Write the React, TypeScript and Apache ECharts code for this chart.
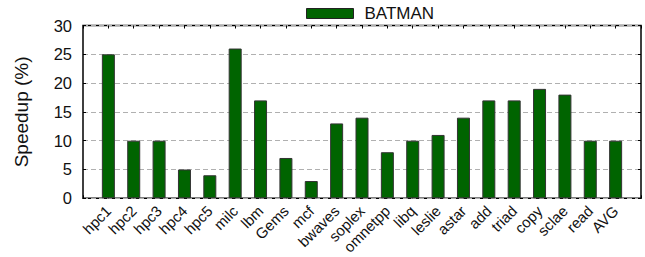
import React, { useEffect, useRef } from "react";
import * as echarts from "echarts";

const categories = ["hpc1", "hpc2", "hpc3", "hpc4", "hpc5", "milc", "lbm", "Gems", "mcf", "bwaves", "soplex", "omnetpp", "libq", "leslie", "astar", "add", "triad", "copy", "sclae", "read", "AVG"];
const batman = [25, 10, 10, 5, 4, 26, 17, 7, 3, 13, 14, 8, 10, 11, 14, 17, 17, 19, 18, 10, 10];
const yTicks = [0, 5, 10, 15, 20, 25, 30];

const FONT = "'Liberation Sans', Arial, sans-serif";

export default function App() {
  const ref = useRef<HTMLDivElement>(null);
  useEffect(() => {
    const chart = echarts.init(ref.current!, null, { renderer: "svg" });
    const data = batman.map((v, i) => [i, v]);
    const tick = { show: true, inside: true, length: 3, lineStyle: { color: "#000", width: 1 } };
    chart.setOption({
      animation: false,
      textStyle: { fontFamily: FONT },
      legend: {
        data: ["BATMAN"],
        top: 5,
        left: 306,
        padding: 0,
        icon: "rect",
        itemWidth: 47,
        itemHeight: 10,
        itemGap: 6,
        itemStyle: { borderColor: "#222", borderWidth: 1 },
        textStyle: { fontSize: 17, color: "#111", fontFamily: FONT, padding: [0, 0, 0, 6] },
      },
      grid: { left: 83, right: 4, top: 25.5, bottom: 57.5, show: true, borderColor: "#000", borderWidth: 1.5, backgroundColor: "transparent" },
      xAxis: [
        {
          type: "value",
          min: -1,
          max: categories.length,
          interval: 1,
          position: "bottom",
          axisLine: { show: false, onZero: false },
          axisTick: tick,
          splitLine: { show: false },
          axisLabel: {
            rotate: 45,
            fontSize: 15,
            color: "#111",
            margin: 10,
            fontFamily: FONT,
            formatter: (v: number) => (v >= 0 && v < categories.length ? categories[v] : ""),
          },
        },
        {
          type: "value",
          min: -1,
          max: categories.length,
          interval: 1,
          position: "top",
          axisLine: { show: false, onZero: false },
          axisTick: tick,
          splitLine: { show: false },
          axisLabel: { show: false },
        },
      ],
      yAxis: [
        {
          type: "value",
          min: yTicks[0],
          max: yTicks[yTicks.length - 1],
          interval: 5,
          position: "left",
          name: "Speedup (%)",
          nameLocation: "middle",
          nameGap: 52,
          nameTextStyle: { fontSize: 19, color: "#111", fontFamily: FONT },
          axisLine: { show: false, onZero: false },
          axisTick: tick,
          axisLabel: { fontSize: 16.5, color: "#111", margin: 11, fontFamily: FONT },
          splitLine: { show: true, lineStyle: { color: "#b0b0b0", type: [5, 3], width: 1 } },
        },
        {
          type: "value",
          min: yTicks[0],
          max: yTicks[yTicks.length - 1],
          interval: 5,
          position: "right",
          axisLine: { show: false, onZero: false },
          axisTick: tick,
          axisLabel: { show: false },
          splitLine: { show: false },
        },
      ],
      series: [
        {
          name: "BATMAN",
          type: "bar",
          data,
          barWidth: 13,
          itemStyle: { color: "#006400", borderColor: "#333", borderWidth: 1 },
        },
      ],
    });
    return () => chart.dispose();
  }, []);
  return <div ref={ref} style={{ width: 645, height: 257, position: "absolute", left: 0, top: 0 }} />;
}
